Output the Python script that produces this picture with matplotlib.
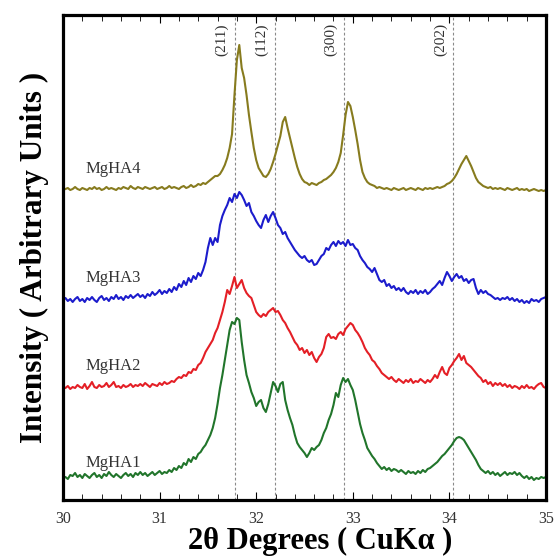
import numpy as np
import matplotlib
matplotlib.use("Agg")
import matplotlib.pyplot as plt
from matplotlib.ticker import MultipleLocator

plt.rcParams['font.family'] = ['Liberation Serif', 'DejaVu Serif']

# 2-theta scan, 30-35 deg, 0.025 deg step
two_theta = np.linspace(30.0, 35.0, 201)

mgha4 = [
    310, 311, 312, 310, 311, 313, 311, 310, 312, 311, 310, 312, 311, 313, 311, 312, 310, 311, 313, 311,
    312, 311, 310, 312, 311, 313, 312, 311, 314, 312, 311, 313, 312, 311, 313, 312, 311, 312, 313, 311,
    312, 313, 311, 312, 314, 312, 313, 312, 311, 313, 314, 312, 313, 315, 313, 314, 316, 315, 317, 316,
    318, 320, 322, 324, 324, 326, 330, 335, 342, 352, 366, 405, 440, 455, 432, 422, 405, 385, 368, 352,
    340, 332, 328, 324, 323, 326, 331, 338, 346, 355, 364, 378, 383, 372, 362, 352, 342, 333, 326, 321,
    318, 317, 315, 317, 316, 315, 317, 318, 320, 321, 323, 325, 328, 332, 338, 347, 365, 385, 398, 394,
    383, 370, 356, 340, 328, 322, 318, 316, 315, 314, 312, 313, 312, 311, 312, 311, 310, 312, 311, 310,
    311, 312, 310, 311, 312, 311, 310, 312, 311, 310, 312, 311, 312, 311, 312, 313, 312, 313, 314, 316,
    317, 319, 322, 326, 331, 336, 340, 344, 339, 334, 328, 322, 318, 316, 314, 313, 312, 313, 311, 312,
    311, 312, 311, 310, 312, 311, 310, 311, 312, 310, 311, 310, 311, 309, 310, 311, 310, 309, 310, 309,
    310,
]

mgha3 = [
    200, 202, 199, 201, 198, 201, 203, 199, 201, 198, 202, 200, 203, 200, 198, 202, 204, 200, 202, 199,
    203, 201, 205, 201, 203, 200, 204, 202, 205, 202, 204, 206, 203, 205, 202, 206, 204, 208, 205, 207,
    210, 206, 209, 207, 211, 208, 213, 210, 216, 213, 219, 215, 222, 218, 224, 221, 227, 224, 230, 238,
    252, 262, 255, 262, 258, 275, 284, 290, 295, 302, 298, 306, 302, 308, 305, 300, 294, 297, 288, 284,
    279, 275, 272, 280, 285, 278, 284, 288, 282, 275, 272, 266, 268, 262, 258, 254, 250, 247, 244, 242,
    244, 240, 238, 240, 235, 236, 240, 244, 246, 252, 250, 255, 258, 254, 259, 256, 258, 254, 260, 255,
    256, 252, 250, 244, 240, 237, 233, 231, 228, 232, 226, 220, 218, 220, 214, 216, 212, 214, 210, 212,
    209, 212, 208, 206, 209, 207, 210, 206, 209, 207, 210, 206, 208, 211, 213, 216, 219, 215, 222, 228,
    224, 219, 223, 226, 222, 224, 219, 221, 217, 220, 221, 212, 206, 210, 207, 209, 206, 205, 203, 201,
    202, 200, 202, 201, 203, 200, 202, 199, 201, 198, 200, 197, 199, 197, 201, 199, 200, 198, 201, 202,
    203,
]

mgha2 = [
    113, 112, 114, 111, 113, 112, 115, 113, 112, 116, 111, 114, 118, 113, 112, 115, 113, 114, 117, 113,
    115, 118, 113, 114, 112, 115, 113, 114, 116, 113, 115, 114, 116, 114, 117, 115, 113, 116, 115, 114,
    117, 115, 118, 116, 117, 119, 118, 121, 123, 122, 125, 124, 128, 127, 131, 130, 135, 137, 142, 148,
    152, 156, 160, 167, 172, 180, 188, 198, 210, 206, 214, 223, 212, 216, 220, 212, 207, 204, 202, 195,
    188, 185, 183, 186, 184, 188, 190, 192, 188, 189, 185, 180, 177, 172, 168, 163, 158, 155, 150, 152,
    147, 150, 145, 148, 142, 138, 143, 146, 152, 163, 166, 162, 163, 161, 166, 168, 165, 171, 174, 177,
    175, 170, 167, 163, 158, 152, 148, 145, 140, 138, 134, 131, 127, 125, 123, 121, 123, 120, 118, 121,
    119, 117, 120, 118, 121, 117, 119, 118, 121, 119, 117, 120, 118, 121, 125, 122, 128, 133, 127, 125,
    132, 135, 139, 142, 146, 140, 144, 137, 135, 133, 130, 127, 124, 122, 118, 120, 116, 118, 114, 117,
    115, 117, 114, 116, 113, 115, 112, 114, 113, 111, 114, 112, 115, 112, 113, 111, 114, 116, 117, 113,
    112,
]

mgha1 = [
    22, 23, 21, 25, 24, 27, 23, 25, 22, 26, 24, 22, 25, 27, 23, 25, 22, 26, 24, 28,
    25, 23, 26, 24, 22, 25, 27, 24, 26, 23, 27, 25, 28, 25, 27, 24, 26, 28, 25, 27,
    29, 26, 28, 27, 30, 28, 32, 30, 34, 32, 37, 35, 41, 38, 43, 41, 46, 48, 52, 55,
    60, 65, 72, 82, 96, 112, 125, 140, 155, 170, 178, 176, 182, 180, 158, 140, 125, 117, 108, 102,
    94, 98, 100, 92, 88, 96, 107, 118, 114, 108, 116, 118, 100, 90, 82, 75, 65, 57, 53, 50,
    47, 43, 47, 52, 50, 53, 55, 60, 67, 72, 80, 86, 95, 107, 103, 115, 122, 118, 121, 115,
    110, 100, 88, 76, 67, 60, 52, 48, 44, 41, 37, 34, 31, 33, 30, 32, 29, 31, 30, 28,
    30, 28, 26, 29, 27, 28, 26, 29, 27, 30, 28, 31, 32, 34, 36, 38, 41, 44, 46, 49,
    52, 55, 59, 62, 63, 62, 60, 56, 52, 48, 44, 40, 35, 31, 29, 27, 29, 26, 28, 25,
    27, 24, 26, 28, 25, 27, 26, 28, 25, 27, 24, 22, 24, 21, 23, 20, 22, 21, 23, 22,
    23,
]

series_names = ["MgHA4", "MgHA3", "MgHA2", "MgHA1"]
series_values = [mgha4, mgha3, mgha2, mgha1]
series_colors = ["#877b1e", "#1c1ccc", "#e41f26", "#21752b"]
label_y = [331, 222, 134, 37]

peak_labels = ["(211)", "(112)", "(300)", "(202)"]
peak_positions = [31.78, 32.19, 32.905, 34.04]

xticks = [30, 31, 32, 33, 34, 35]

fig = plt.figure(figsize=(5.56, 5.60), dpi=100)
ax = fig.add_axes([63/556, 60/560, 483/556, 485/560])

for pos in peak_positions:
    ax.axvline(pos, color="#8a8a8a", lw=0.8, ls=(0, (2.5, 2.0)), zorder=1)

for name, vals, col, ly in zip(series_names, series_values, series_colors, label_y):
    ax.plot(two_theta, vals, color=col, lw=1.5, zorder=2)
    ax.text(30.23, ly, name, fontsize=12, color="#333333", va="center", ha="left")

for lab, pos in zip(peak_labels, peak_positions):
    ax.text(pos - 0.135, 477, lab, rotation=90, fontsize=11, color="#333333",
            ha="center", va="top")

ax.set_xlim(30, 35)
ax.set_ylim(0, 485)
ax.set_xticks(xticks)
ax.set_xticklabels([str(t) for t in xticks])
ax.xaxis.set_minor_locator(MultipleLocator(0.2))
ax.set_yticks([])
ax.tick_params(axis="x", which="major", direction="in", length=6, width=0.8,
               top=True, bottom=True, labelsize=11.5, labelcolor="#333333", pad=8)
ax.tick_params(axis="x", which="minor", direction="in", length=4, width=0.6,
               top=True, bottom=True)
for sp in ax.spines.values():
    sp.set_linewidth(2.3)

ax.set_xlabel("2θ Degrees ( CuKα )", fontsize=22, fontweight="bold")
ax.xaxis.set_label_coords(0.532, -0.056, transform=ax.transAxes)
ax.xaxis.label.set_verticalalignment("top")
ax.set_ylabel("Intensity ( Arbitrary Units )", fontsize=22.5, fontweight="bold", labelpad=10)

fig.savefig("out.png", dpi=100)
